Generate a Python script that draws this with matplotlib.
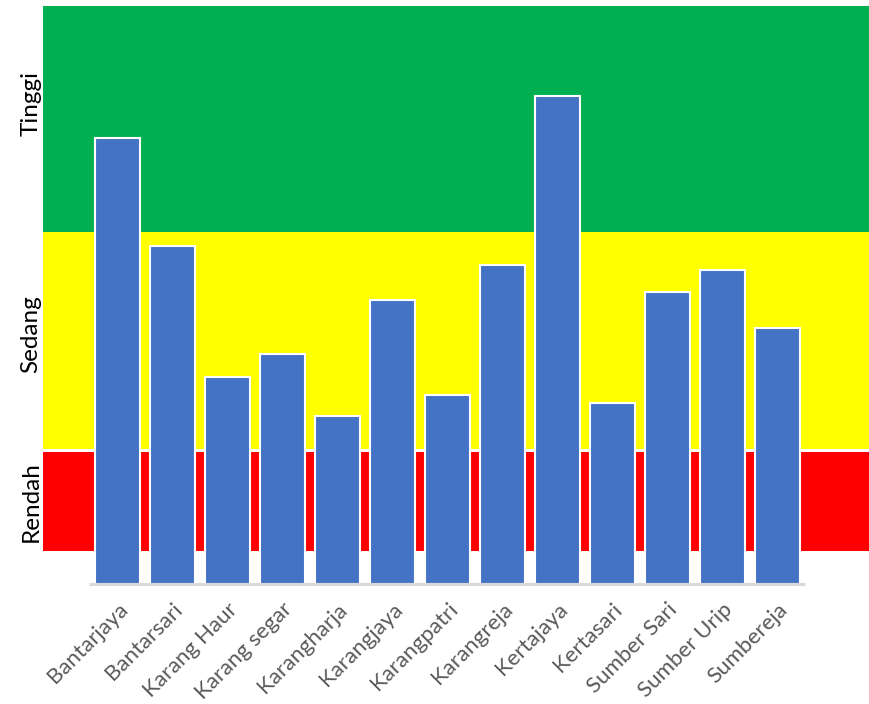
import matplotlib
matplotlib.use("Agg")
import matplotlib.pyplot as plt

plt.rcParams['font.family'] = ['Lato', 'DejaVu Sans']

# Village scores
villages = ["Bantarjaya", "Bantarsari", "Karang Haur", "Karang segar", "Karangharja",
            "Karangjaya", "Karangpatri", "Karangreja", "Kertajaya", "Kertasari",
            "Sumber Sari", "Sumber Urip", "Sumbereja"]
scores = [77.2, 58.5, 35.8, 39.8, 29.1, 49.1, 32.7, 55.2, 84.4, 31.3, 50.5, 54.3, 44.3]

# Category bands (lower, upper) and their labels
band_names = ["Rendah", "Sedang", "Tinggi"]
band_low = [5.7, 23.3, 60.9]
band_high = [22.8, 60.9, 100.0]
band_colors = ["#FF0000", "#FFFF00", "#00B050"]
label_pos = [14.2, 43.3, 83.1]

fig = plt.figure(figsize=(8.7, 7.04), dpi=100)
ax = fig.add_axes([43 / 870, 1 - 584 / 704, 1 - 43 / 870, (584 - 6) / 704])

for lo, hi, c in zip(band_low, band_high, band_colors):
    ax.axhspan(lo, hi, color=c, lw=0, zorder=0)

x = list(range(len(villages)))
ax.bar(x, scores, width=0.82, color="#4472C4", edgecolor="white", linewidth=1.5, zorder=2)
ax.plot([-0.52, len(villages) - 0.5], [0, 0], color="#D9D9D9", lw=2.2,
        solid_capstyle="butt", zorder=3, clip_on=False)

ax.set_xlim(-1.353, 13.686)
ax.set_ylim(0, 100)
for s in ax.spines.values():
    s.set_visible(False)
ax.set_yticks([])
ax.set_xticks(x)
ax.set_xticklabels(villages, rotation=45, ha="right", va="top", rotation_mode="anchor",
                   fontsize=16, color="#595959")
ax.tick_params(axis="x", length=0, pad=11)

for name, y in zip(band_names, label_pos):
    ax.text(-1.353 - 12 / 55, y, name, rotation=90, ha="center", va="center",
            fontsize=17.5, color="black", clip_on=False)

fig.savefig("out.png", dpi=100)
